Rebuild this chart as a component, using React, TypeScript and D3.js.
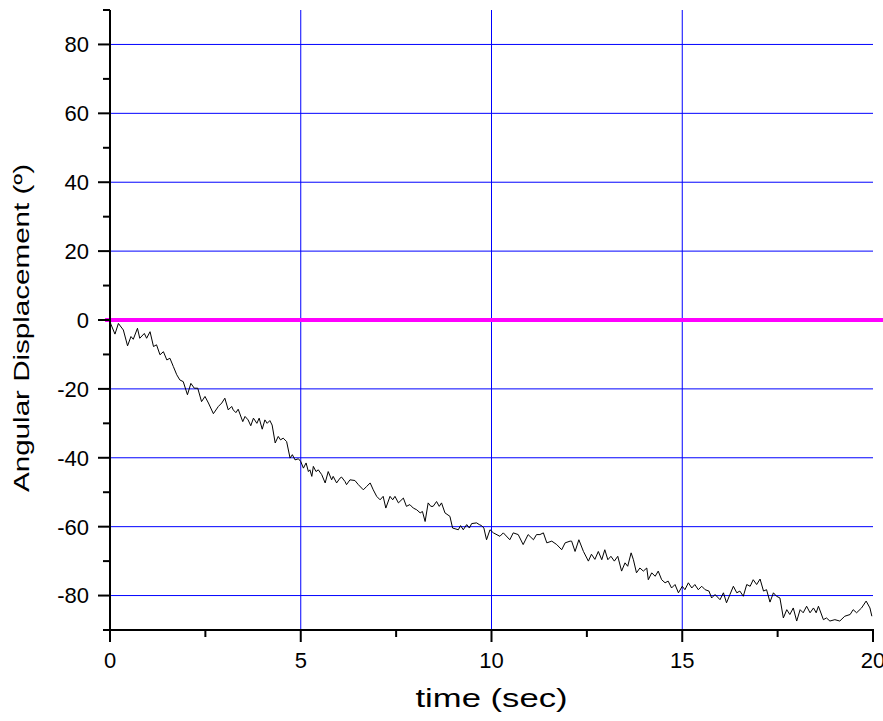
import React from "react";
import * as d3 from "d3";

// ---- Data ----
const times: number[] = [
  0.0, 0.03, 0.13, 0.22, 0.35, 0.46, 0.55, 0.61, 0.72, 0.78, 0.9, 0.96, 1.05, 1.14, 1.22, 1.31, 1.4, 1.49, 1.57,
  1.66, 1.75, 1.83, 1.92, 2.03, 2.12, 2.21, 2.3, 2.4, 2.49, 2.58, 2.71, 2.84, 2.93, 3.01, 3.1, 3.19, 3.23,
  3.3, 3.36, 3.48, 3.54, 3.62, 3.69, 3.76, 3.85, 3.91, 3.99, 4.06, 4.12, 4.19, 4.25, 4.33, 4.41, 4.47, 4.54,
  4.63, 4.72, 4.78, 4.85, 4.94, 5.0, 5.07, 5.14, 5.2, 5.24, 5.29, 5.33, 5.4, 5.46, 5.55, 5.64, 5.72, 5.81,
  5.85, 5.94, 6.03, 6.07, 6.16, 6.2, 6.29, 6.42, 6.51, 6.64, 6.73, 6.82, 6.9, 6.99, 7.08, 7.16, 7.23, 7.34,
  7.41, 7.47, 7.56, 7.69, 7.77, 7.86, 7.95, 8.04, 8.13, 8.19, 8.26, 8.34, 8.41, 8.47, 8.56, 8.63, 8.69, 8.78,
  8.91, 8.98, 9.07, 9.13, 9.19, 9.26, 9.35, 9.42, 9.48, 9.61, 9.68, 9.74, 9.8, 9.87, 9.96, 10.05, 10.22,
  10.31, 10.48, 10.57, 10.7, 10.83, 10.96, 11.1, 11.18, 11.27, 11.36, 11.45, 11.58, 11.71, 11.84, 11.93,
  12.06, 12.1, 12.19, 12.29, 12.41, 12.54, 12.62, 12.71, 12.8, 12.89, 12.97, 13.05, 13.13, 13.22, 13.31,
  13.41, 13.5, 13.57, 13.66, 13.72, 13.8, 13.89, 13.98, 14.07, 14.11, 14.2, 14.29, 14.37, 14.46, 14.55,
  14.63, 14.72, 14.81, 14.9, 15.0, 15.07, 15.16, 15.25, 15.33, 15.42, 15.51, 15.6, 15.7, 15.77, 15.86,
  15.99, 16.08, 16.16, 16.25, 16.34, 16.43, 16.51, 16.6, 16.69, 16.78, 16.86, 16.95, 17.04, 17.13, 17.21,
  17.3, 17.39, 17.47, 17.56, 17.65, 17.74, 17.82, 17.91, 18.0, 18.09, 18.17, 18.26, 18.35, 18.44, 18.51,
  18.57, 18.7, 18.78, 18.87, 19.0, 19.13, 19.26, 19.4, 19.48, 19.57, 19.7, 19.82, 19.92, 19.97,
];
const angles: number[] = [
  -0.5, -1.4, -4.1, -1.0, -2.9, -7.5, -4.8, -5.6, -2.4, -5.3, -3.9, -5.3, -3.4, -7.7, -7.2, -10.1, -9.2, -11.6, -11.1,
  -13.5, -15.9, -17.4, -17.9, -21.7, -18.4, -19.8, -19.8, -23.7, -22.2, -24.1, -27.2, -25.1, -24.1, -22.7, -26.1, -25.1, -26.1,
  -26.9, -25.9, -29.5, -28.0, -29.0, -30.7, -28.5, -30.0, -28.5, -31.7, -29.0, -30.0, -29.2, -30.5, -35.7, -33.8, -34.8, -34.3,
  -35.3, -40.1, -39.1, -40.6, -40.3, -41.1, -43.0, -41.5, -44.0, -43.5, -45.4, -42.5, -44.0, -43.5, -44.9, -47.3, -44.0, -46.4,
  -45.4, -47.3, -45.9, -45.6, -46.9, -47.8, -46.4, -46.6, -47.8, -49.3, -48.3, -47.3, -49.3, -51.2, -52.2, -51.2, -54.6, -51.2,
  -52.2, -51.2, -53.1, -51.7, -54.1, -53.6, -54.6, -55.1, -56.0, -55.6, -58.5, -53.1, -54.1, -54.1, -52.7, -54.1, -53.1, -56.0,
  -57.0, -60.4, -60.7, -60.9, -59.7, -60.9, -59.4, -60.4, -59.1, -58.9, -59.4, -59.7, -60.4, -63.8, -60.9, -61.8, -62.8,
  -61.8, -63.8, -61.8, -62.3, -65.2, -62.3, -63.8, -62.3, -62.3, -61.8, -64.7, -64.2, -65.2, -66.7, -64.7,
  -64.2, -64.2, -67.2, -63.8, -67.2, -70.0, -68.0, -69.5, -67.2, -69.6, -66.7, -69.6, -68.6, -70.0, -68.6,
  -72.9, -70.5, -71.5, -67.6, -69.6, -73.4, -72.0, -72.9, -72.0, -75.4, -73.4, -74.4, -72.9, -75.4, -76.3,
  -75.8, -77.8, -76.8, -79.2, -77.3, -78.3, -76.3, -77.8, -76.8, -78.3, -77.3, -78.3, -78.7, -80.7, -79.7,
  -81.2, -79.2, -82.1, -79.7, -77.3, -79.2, -78.7, -80.2, -76.8, -77.3, -75.4, -76.8, -75.2, -78.7, -78.3,
  -81.9, -79.2, -80.2, -80.7, -86.5, -84.1, -85.5, -83.6, -87.4, -84.1, -85.0, -83.1, -85.0, -83.6, -85.0,
  -83.1, -87.0, -86.5, -87.4, -87.0, -87.4, -86.0, -85.5, -84.1, -85.0, -83.6, -81.6, -83.6, -86.0,
];
const xMajorTicks: number[] = [0, 5, 10, 15, 20];
const xMinorTicks: number[] = [2.5, 7.5, 12.5, 17.5];
const yMajorTicks: number[] = [-80, -60, -40, -20, 0, 20, 40, 60, 80];
const yMinorTicks: number[] = [-90, -70, -50, -30, -10, 10, 30, 50, 70, 90];
const xGridValues: number[] = [5, 10, 15];
const yGridValues: number[] = [-80, -60, -40, -20, 20, 40, 60, 80];
const referenceValue = 0;
const xTitle = "time (sec)";
const yTitle = "Angular Displacement (º)";

const W = 883;
const H = 721;
const FONT = "Arial, 'Liberation Sans', Helvetica, sans-serif";

export default function App() {
  const x = d3.scaleLinear().domain([0, 20]).range([110, 873]);
  const y = d3.scaleLinear().domain([-90, 90]).range([630, 10]);
  const pts: [number, number][] = times.map((t, i) => [t, angles[i]]);
  const line = d3
    .line<[number, number]>()
    .x((d) => x(d[0]))
    .y((d) => y(d[1]));

  const left = x(0);
  const bottom = y(-90);
  const top = y(90);
  const right = x(20);

  return (
    <svg
      width={W}
      height={H}
      viewBox={`0 0 ${W} ${H}`}
      style={{ position: "absolute", left: 0, top: 0, background: "#fff" }}
      fontFamily={FONT}
    >
      <rect x={0} y={0} width={W} height={H} fill="#fff" />
      {/* grid */}
      {yGridValues.map((v) => (
        <line key={"gy" + v} x1={left} x2={right} y1={y(v)} y2={y(v)} stroke="#0000ff" strokeWidth={1} />
      ))}
      {xGridValues.map((v) => (
        <line key={"gx" + v} x1={x(v)} x2={x(v)} y1={top} y2={bottom} stroke="#0000ff" strokeWidth={1} />
      ))}
      {/* zero reference line */}
      <line
        x1={x(-0.13)}
        x2={W}
        y1={y(referenceValue)}
        y2={y(referenceValue)}
        stroke="#ff00ff"
        strokeWidth={4}
      />
      {/* data */}
      <path d={line(pts) || ""} fill="none" stroke="#000" strokeWidth={1} strokeLinejoin="round" />
      {/* y axis */}
      <line x1={left} x2={left} y1={top} y2={bottom + 1} stroke="#000" strokeWidth={2} />
      {yMajorTicks.map((v) => (
        <g key={"ym" + v}>
          <line x1={left - 12} x2={left} y1={y(v)} y2={y(v)} stroke="#000" strokeWidth={2} />
          <text x={89} y={y(v)} dy="0.36em" textAnchor="end" fontSize={22} fill="#000">
            {v}
          </text>
        </g>
      ))}
      {yMinorTicks.map((v) => (
        <line key={"yn" + v} x1={left - 7} x2={left} y1={y(v)} y2={y(v)} stroke="#000" strokeWidth={2} />
      ))}
      {/* x axis */}
      <line x1={left - 1} x2={right + 1} y1={bottom} y2={bottom} stroke="#000" strokeWidth={2} />
      {xMajorTicks.map((v) => (
        <g key={"xm" + v}>
          <line x1={x(v)} x2={x(v)} y1={bottom} y2={bottom + 12} stroke="#000" strokeWidth={2} />
          <text x={x(v)} y={668} textAnchor="middle" fontSize={22} fill="#000">
            {v}
          </text>
        </g>
      ))}
      {xMinorTicks.map((v) => (
        <line key={"xn" + v} x1={x(v)} x2={x(v)} y1={bottom} y2={bottom + 7} stroke="#000" strokeWidth={2} />
      ))}
      {/* titles */}
      <text
        x={(left + right) / 2}
        y={707}
        textAnchor="middle"
        fontSize={25}
        fill="#000"
        textLength={152}
        lengthAdjust="spacingAndGlyphs"
      >
        {xTitle}
      </text>
      <text
        transform={`translate(29, 328) rotate(-90)`}
        textAnchor="middle"
        fontSize={22}
        fill="#000"
        textLength={328}
        lengthAdjust="spacingAndGlyphs"
      >
        {yTitle}
      </text>
    </svg>
  );
}
